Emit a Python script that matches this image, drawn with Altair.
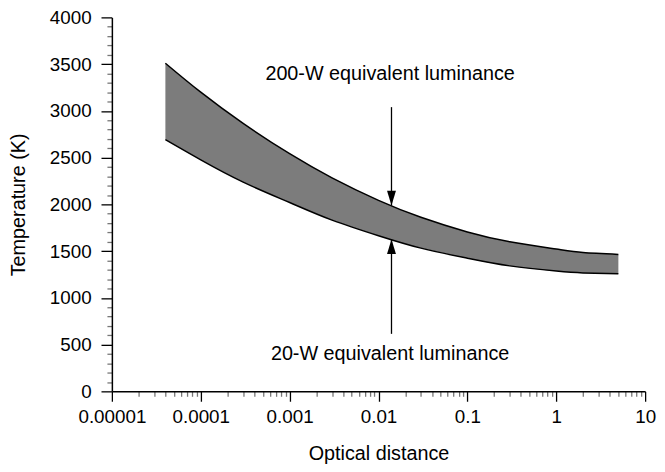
import altair as alt
import pandas as pd

# ---- data ----
distance = [4e-5, 1e-4, 3e-4, 1e-3, 3e-3, 1e-2, 3e-2, 0.1, 0.3, 1, 2, 5]
temp_200w = [3510, 3200, 2866, 2542, 2284, 2043, 1862, 1705, 1600, 1522, 1485, 1465]
temp_20w = [2692, 2476, 2238, 2020, 1832, 1665, 1532, 1424, 1342, 1287, 1267, 1257]

arrow_x = [0.014, 0.014]
arrow_start = [3040, 615]
arrow_tip = [1988, 1627]
arrow_dir = ["down", "up"]

label_x = [0.0135, 0.0135]
label_y = [3330, 335]
label_text = ["200-W equivalent luminance", "20-W equivalent luminance"]

x_major = [1e-5, 1e-4, 1e-3, 1e-2, 1e-1, 1, 10]
x_ticks = sorted(set(x_major + [k * m for m in x_major[:-1] for k in range(2, 10)]))
y_ticks = list(range(0, 4001, 100))

FONT = "Liberation Sans"

band = pd.DataFrame({"distance": distance, "hi": temp_200w, "lo": temp_20w})
arrows = pd.DataFrame({"distance": arrow_x, "start": arrow_start, "tip": arrow_tip, "dir": arrow_dir})
labels = pd.DataFrame({"distance": label_x, "y": label_y, "text": label_text})

xscale = alt.Scale(type="log", domain=[1e-5, 10], nice=False)
yscale = alt.Scale(domain=[0, 4000], nice=False)

x_is_major = "abs(log(datum.value)/LN10 - round(log(datum.value)/LN10)) < 0.001"
y_is_major = "datum.value % 500 === 0"

W, H = 539, 378

x_axis = alt.Axis(
    title="Optical distance",
    values=x_ticks,
    labelExpr=f"({x_is_major}) ? format(datum.value, '~f') : ''",
    labelOverlap=False,
    labelFlush=False,
    grid=False,
    tickSize={"condition": {"test": x_is_major, "value": 10}, "value": 5},
    tickColor={"condition": {"test": x_is_major, "value": "#000000"}, "value": "#777777"},
    labelPadding=6,
    titleX=W / 2,
    titleY=69,
    titleAlign="center",
    titleBaseline="alphabetic",
)
y_axis = alt.Axis(
    title="Temperature (K)",
    values=y_ticks,
    labelExpr=f"({y_is_major}) ? format(datum.value, 'd') : ''",
    labelOverlap=False,
    labelFlush=False,
    grid=False,
    tickSize={"condition": {"test": y_is_major, "value": 11}, "value": 5},
    tickColor={"condition": {"test": y_is_major, "value": "#000000"}, "value": "#777777"},
    labelPadding=10,
    titleX=-94,
    titleY=H / 2,
    titleAngle=-90,
    titleAlign="center",
    titleBaseline="middle",
)


def X():
    return alt.X("distance:Q", scale=xscale, axis=x_axis)


def Y(field):
    return alt.Y(field, type="quantitative", scale=yscale, axis=y_axis)


area = alt.Chart(band).mark_area(color="#7c7c7c", opacity=1, interpolate="natural").encode(
    x=X(), y=Y("lo"), y2="hi:Q"
)
upper = alt.Chart(band).mark_line(color="black", strokeWidth=1.5, interpolate="natural").encode(
    x=X(), y=Y("hi")
)
lower = alt.Chart(band).mark_line(color="black", strokeWidth=1.5, interpolate="natural").encode(
    x=X(), y=Y("lo")
)
rules = alt.Chart(arrows).mark_rule(color="black", strokeWidth=1.3).encode(
    x=X(), y=Y("start"), y2="tip:Q"
)
heads = alt.Chart(arrows).mark_point(filled=True, color="black", opacity=1, size=225, strokeWidth=0).encode(
    x=X(),
    y=Y("tip"),
    shape=alt.Shape(
        "dir:N",
        scale=alt.Scale(domain=["down", "up"], range=["M-0.6,-2L0.6,-2L0,0Z", "M-0.6,2L0.6,2L0,0Z"]),
        legend=None,
    ),
)
texts = alt.Chart(labels).mark_text(
    font=FONT, fontSize=20, color="black", align="center", baseline="alphabetic"
).encode(x=X(), y=Y("y"), text="text:N")

chart = (
    alt.layer(area, upper, lower, rules, heads, texts)
    .properties(
        width=W,
        height=H,
        autosize=alt.AutoSizeParams(type="none"),
        padding={"left": 105, "top": 7, "right": 12, "bottom": 76},
    )
    .configure_view(stroke=None)
    .configure_axis(
        domainColor="black",
        domainWidth=1.5,
        tickWidth=1.3,
        labelFont=FONT,
        labelFontSize=19,
        labelColor="black",
        titleFont=FONT,
        titleFontSize=20,
        titleFontWeight="normal",
        titleColor="black",
    )
)

chart.save("out.html", embed_options={"renderer": "svg", "actions": False})
